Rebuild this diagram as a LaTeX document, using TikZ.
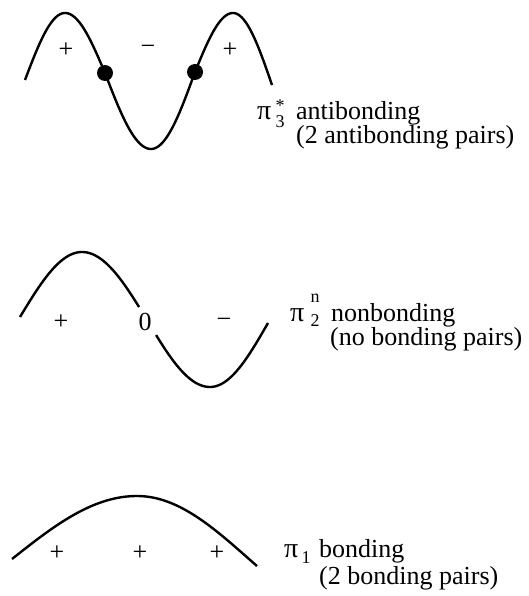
\documentclass[tikz,border=0pt]{standalone}
\usepackage{fontspec}
\setmainfont{Liberation Serif}
\begin{document}
\begin{tikzpicture}[x=1pt,y=-1pt,
  wave/.style={line width=2.4pt, line join=round, samples=40},
  lbl/.style={inner sep=0pt, anchor=base west, font=\fontsize{26}{24}\selectfont},
  pisym/.style={inner sep=0pt, anchor=base west, font=\fontsize{28}{24}\selectfont},
  scr/.style={inner sep=0pt, anchor=base, font=\fontsize{18}{18}\selectfont},
  scrstack/.style={inner sep=0pt, anchor=center, align=center},
  sgn/.style={inner sep=0pt, anchor=center, font=\fontsize{26}{26}\selectfont},
  nodedot/.style={circle, fill=black, inner sep=0pt, minimum size=16pt}]
\useasboundingbox (0,0) rectangle (528,596);

% ---------- pi3* antibonding ----------
\draw[wave] plot[domain=0:90] ({25+40*\x/90},{80-67*sin(\x)})
  -- plot[domain=0:90] ({65+40*\x/90},{73-60*cos(\x)})
  -- plot[domain=0:90] ({105+46*\x/90},{73+76*sin(\x)})
  -- plot[domain=0:90] ({151+44*\x/90},{72+77*cos(\x)})
  -- plot[domain=0:90] ({195+38*\x/90},{72-59*sin(\x)})
  -- plot[domain=0:90] ({233+39*\x/90},{85-72*cos(\x)});
\node[nodedot] (d1) at (105,73) {};
\node[nodedot] (d2) at (195,72) {};
\node[sgn] (s31) at (66,50) {+};
\node[sgn] (s32) at (148,50) {−};
\node[sgn] (s33) at (230,50) {+};
\node[pisym] (pi3) at (257,120) {π};
\node[scrstack, font=\fontsize{18}{16}\selectfont] (pi3ss) at (280,113.5) {*\\3};
\node[lbl] (t3a) at (296,120) {antibonding};
\node[lbl] (t3b) at (296,144) {(2 antibonding pairs)};

% ---------- pi2n nonbonding ----------
\draw[wave] plot[domain=0:90] ({20+62*\x/90},{317-65*sin(\x)})
  -- plot[domain=0:79] ({82+65*\x/90},{320-68*cos(\x)});
\draw[wave] plot[domain=13:90] ({147+63*\x/90},{320+67*sin(\x)})
  -- plot[domain=0:90] ({210+58*\x/90},{323+64*cos(\x)});
\node[sgn] (s21) at (61,322) {+};
\node[sgn] (s22) at (145,322) {0};
\node[sgn] (s23) at (224,323) {−};
\node[pisym] (pi2) at (290,321) {π};
\node[scrstack, font=\fontsize{18}{24}\selectfont] (pi2ss) at (315,310) {n\\2};
\node[lbl] (t2a) at (331,321) {nonbonding};
\node[lbl] (t2b) at (330,345) {(no bonding pairs)};

% ---------- pi1 bonding ----------
\draw[wave] plot[domain=0:90] ({12+125*\x/90},{559-63*sin(\x)})
  -- plot[domain=0:96.4] ({137+112*\x/90},{559-63*cos(\x)});
\node[sgn] (s11) at (57,553) {+};
\node[sgn] (s12) at (140,553) {+};
\node[sgn] (s13) at (217,553) {+};
\node[pisym] (pi1) at (284,557) {π};
\node[scr] (pi1sub) at (306,563) {1};
\node[lbl] (t1a) at (319,557) {bonding};
\node[lbl] (t1b) at (319,584) {(2 bonding pairs)};
\end{tikzpicture}
\end{document}
